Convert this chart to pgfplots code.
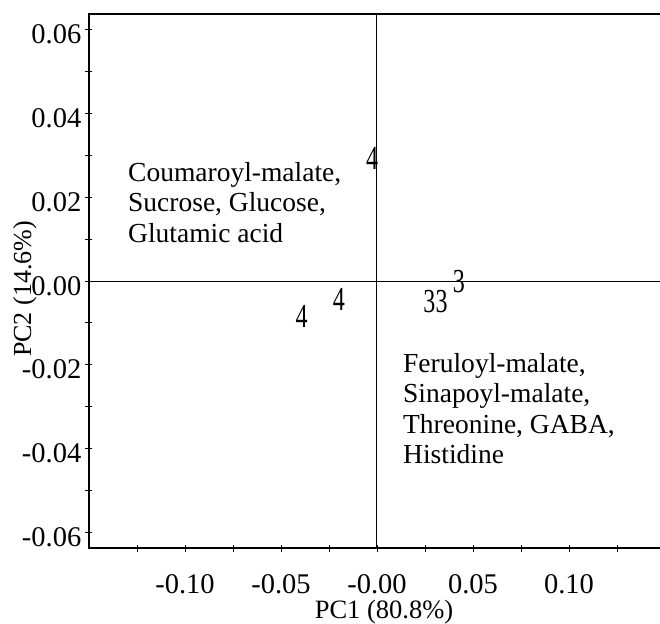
\documentclass[border=0pt]{standalone}
\usepackage{fontspec}
\setmainfont{Liberation Serif}
\usepackage{graphicx}
\usepackage{pgfplots}
\pgfplotsset{compat=1.18}

% PCA score plot: sample groups labelled by number
\pgfplotstableread{
x        y        grp
-0.0026   0.0293  4
-0.0198  -0.0043  4
-0.0393  -0.0084  4
 0.0273  -0.0048  3
 0.0336  -0.0048  3
 0.0427  -0.0001  3
}\scores

\begin{document}
\begin{tikzpicture}
\useasboundingbox (-89pt,-75pt) rectangle (571pt,548pt);
\begin{axis}[
  at={(0,0)}, anchor=south west,
  scale only axis, width=571pt, height=534pt,
  xmin=-0.15, xmax=0.1474, ymin=-0.0638, ymax=0.0638,
  axis line style={draw=none},
  clip=false,
  scaled ticks=false,
  tick align=center, major tick length=7pt, minor tick length=7pt,
  every tick/.style={black, line width=0.9pt},
  minor tick style={black, line width=0.9pt},
  xtick pos=bottom, ytick pos=left,
  xtick={-0.1,-0.05,0,0.05,0.1},
  xticklabels={-0.10,-0.05,-0.00,0.05,0.10},
  minor xtick={-0.125,-0.075,-0.025,0.025,0.075,0.125},
  ytick={-0.06,-0.04,-0.02,0,0.02,0.04,0.06},
  yticklabels={-0.06,-0.04,-0.02,0.00,0.02,0.04,0.06},
  minor ytick={-0.05,-0.03,-0.01,0.01,0.03,0.05},
  ticklabel style={font=\fontsize{28.5}{30}\selectfont, inner sep=0pt},
  xticklabel style={anchor=base, yshift=-42pt},
  yticklabel style={anchor=base east, xshift=-4pt, yshift=-14pt},
]
% frame: left, top and bottom sides
\draw[line width=1.6pt, line join=miter]
  (axis description cs:1,1) -- (axis description cs:0,1) --
  (axis description cs:0,0) -- (axis description cs:1,0);
% zero lines
\draw[line width=1pt] (axis cs:0,-0.0638) -- (axis cs:0,0.0638);
\draw[line width=1pt] (axis cs:-0.15,0) -- (axis cs:0.1474,0);

\addplot[draw=none, mark=none,
  point meta=explicit symbolic,
  nodes near coords={\scalebox{1}[1.4]{\pgfplotspointmeta}},
  every node near coord/.style={anchor=center, inner sep=0pt,
    font=\fontsize{24}{24}\selectfont}]
  table[x=x, y=y, meta=grp] {\scores};

% loadings driving each side of PC1
\node[anchor=north west, align=left, inner sep=0pt,
      font=\fontsize{27.5}{30.5}\selectfont]
  at (axis cs:-0.1297,0.02845)
  {Coumaroyl-malate,\\Sucrose, Glucose,\\Glutamic acid};
\node[anchor=north west, align=left, inner sep=0pt,
      font=\fontsize{27.5}{30.5}\selectfont]
  at (axis cs:0.01354,-0.0172)
  {Feruloyl-malate,\\Sinapoyl-malate,\\Threonine, GABA,\\Histidine};
\end{axis}
\node[anchor=base, font=\fontsize{26.5}{26.5}\selectfont] at (295pt,-70pt) {PC1 (80.8\%)};
\node[anchor=base, rotate=90, font=\fontsize{26}{26}\selectfont] at (-58pt,259pt) {PC2 (14.6\%)};
\end{tikzpicture}
\end{document}
